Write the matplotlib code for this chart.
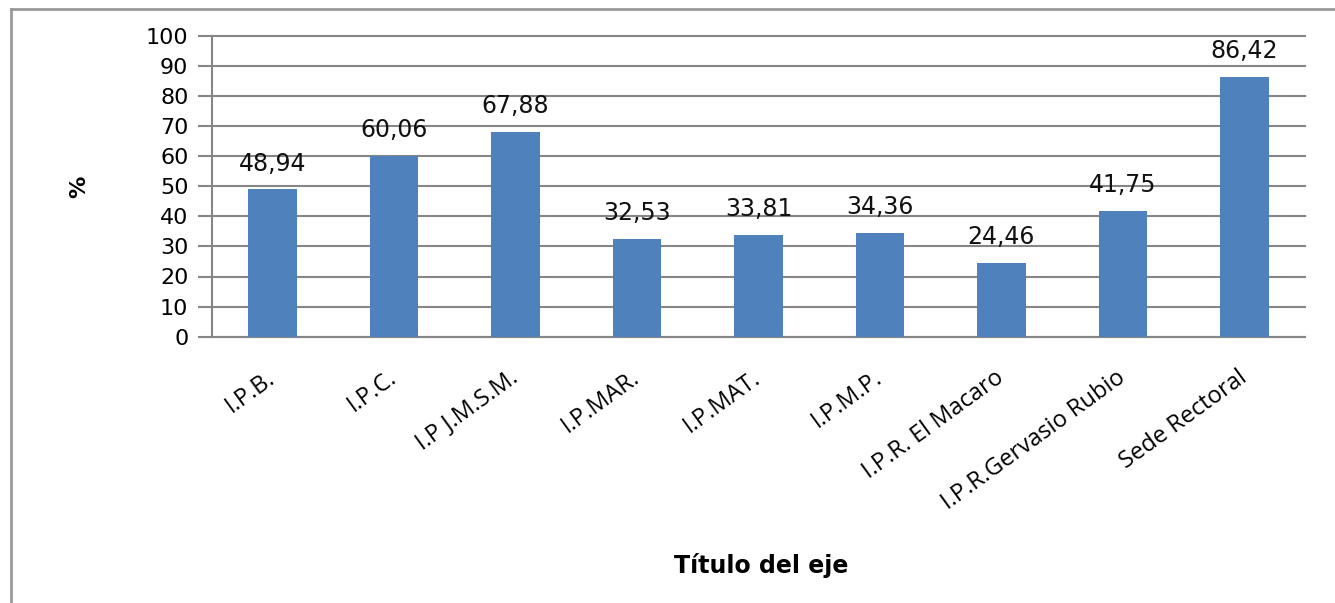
import matplotlib
matplotlib.use('Agg')
import matplotlib.pyplot as plt
from matplotlib.lines import Line2D

# Data
categories = ['I.P.B.', 'I.P.C.', 'I.P J.M.S.M.', 'I.P.MAR.', 'I.P.MAT.',
              'I.P.M.P.', 'I.P.R. El Macaro', 'I.P.R.Gervasio Rubio', 'Sede Rectoral']
values = [48.94, 60.06, 67.88, 32.53, 33.81, 34.36, 24.46, 41.75, 86.42]
yticks = [0, 10, 20, 30, 40, 50, 60, 70, 80, 90, 100]

W, H = 1335, 603
fig = plt.figure(figsize=(W / 100, H / 100), dpi=100)
ax = fig.add_axes([212 / W, 1 - 336.7 / H, (1305 - 212) / W, (336.7 - 35.7) / H])

grey = '#868686'
x = range(len(categories))
ax.bar(x, values, width=0.4, color='#4F81BD', zorder=3)

# value labels
for i, v in enumerate(values):
    ax.annotate(f'{v:.2f}'.replace('.', ','), (i, v), xytext=(0, 10),
                textcoords='offset points', ha='center', va='bottom',
                fontsize=17, family='DejaVu Sans', color='#111111')

ax.set_xlim(-0.5, len(categories) - 0.5)
ax.set_ylim(0, 100)
ax.set_yticks(yticks)
ax.set_yticklabels([str(t) for t in yticks], fontsize=16, family='DejaVu Sans')
ax.yaxis.grid(True, color=grey, linewidth=1.5, zorder=0)
for gl in ax.get_ygridlines():
    gl.set_clip_on(False)
ax.set_axisbelow(True)
ax.tick_params(axis='y', length=10, width=1.5, color=grey, direction='out', pad=7)
ax.tick_params(axis='x', length=0, pad=28)

ax.set_xticks(list(x))
ax.set_xticklabels(categories, rotation=36, ha='right', va='center',
                   rotation_mode='anchor', fontsize=17, family='Open Sans')

for s in ['top', 'right']:
    ax.spines[s].set_visible(False)
ax.spines['left'].set_color(grey)
ax.spines['left'].set_linewidth(1.5)
ax.spines['bottom'].set_color(grey)
ax.spines['bottom'].set_linewidth(1.5)

# axis titles
fig.text(761 / W, 1 - 565 / H, 'Título del eje', ha='center', va='center',
         fontsize=17, fontweight='bold', family='DejaVu Sans')
fig.text(79 / W, 1 - 187 / H, '%', ha='center', va='center', rotation=90,
         fontsize=16, fontweight='bold', family='DejaVu Sans')

# outer chart border (only left and top visible)
fig.add_artist(Line2D([11 / W, 11 / W], [-0.1, 1 - 9 / H], color='#999999',
                      linewidth=2, transform=fig.transFigure))
fig.add_artist(Line2D([11 / W, 1.1], [1 - 9 / H, 1 - 9 / H], color='#999999',
                      linewidth=2, transform=fig.transFigure))

fig.savefig('out.png', dpi=100)
